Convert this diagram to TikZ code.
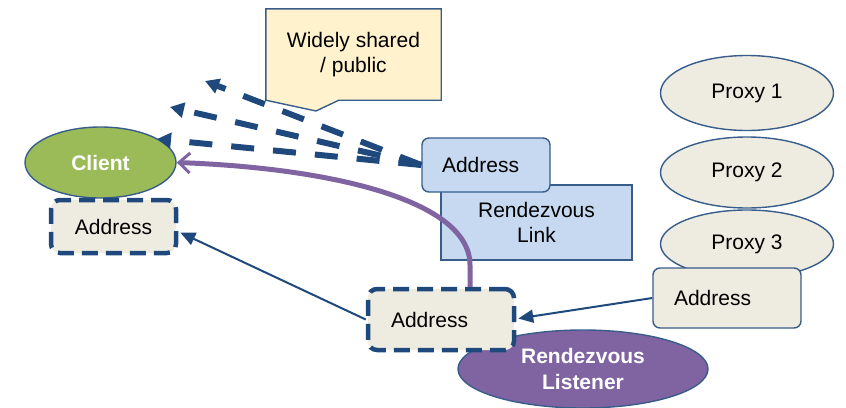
\documentclass[tikz,border=0pt]{standalone}
\usepackage{fontspec}
\setmainfont{Liberation Sans}
\usetikzlibrary{arrows.meta,calc,shapes.geometric,backgrounds}

\definecolor{navy}{HTML}{1F497D}
\definecolor{edgeblue}{HTML}{385D8A}
\definecolor{paper}{HTML}{EEECE1}
\definecolor{notefill}{HTML}{FFF2CC}
\definecolor{linkfill}{HTML}{C6D9F1}
\definecolor{clientgreen}{HTML}{9BBB59}
\definecolor{listenerpurple}{HTML}{8064A2}

\tikzset{
  base/.style={font=\fontsize{21}{25}\selectfont, inner sep=0pt, align=center},
  oval/.style={base, ellipse, draw=edgeblue, line width=1.4pt},
  solidbox/.style={base, rectangle, draw=edgeblue, line width=1.4pt, rounded corners=7pt},
  dashbox/.style={base, rectangle, draw=navy, fill=paper, line width=4.5pt,
    dash pattern=on 16pt off 8pt, rounded corners=9pt},
  thinarrow/.style={draw=navy, line width=2pt, -{Triangle[length=15pt,width=13pt]}},
  sharearrow/.style={draw=navy, line width=6pt, dash pattern=on 23pt off 19pt,
    -{Triangle[length=14pt,width=15pt]}},
}

\begin{document}
\begin{tikzpicture}[x=1pt,y=-1pt]
\useasboundingbox (0,0) rectangle (846,407);

% callout note
\node[base, minimum width=175pt, minimum height=91pt] (note) at (353.5,54.5)
  {Widely shared\\ / public};
\begin{scope}[on background layer]
\draw[edgeblue, line width=1.4pt, fill=notefill]
  (note.north west) -- (note.north east) -- (note.south east)
  -- ($(note.south west)+(73,0)$) -- (316,111) -- (note.south west) -- cycle;
\end{scope}

% rendezvous listener and its address
\node[oval, fill=listenerpurple, minimum width=250pt, minimum height=78pt,
  text=white, font=\fontsize{21}{26}\selectfont\bfseries] (listener) at (583,369)
  {Rendezvous\\ Listener};
\node[dashbox, minimum width=146pt, minimum height=61pt, text width=100pt,
  align=left, inner xsep=23pt] (laddr) at (441,319.5) {Address};

% rendezvous link with its published address
\node[solidbox, rounded corners=0pt, fill=linkfill, minimum width=191pt,
  minimum height=75pt] (link) at (536.5,222.5) {Rendezvous\\ Link};
\node[solidbox, fill=linkfill, minimum width=128pt, minimum height=54pt,
  text width=88pt, align=left, inner xsep=20pt] (paddr) at (486,165) {Address};

% proxies
\node[oval, fill=paper, minimum width=173pt, minimum height=75pt] (p1) at (747,93) {Proxy 1};
\node[oval, fill=paper, minimum width=173pt, minimum height=71pt] (p2) at (747,172.5) {Proxy 2};
\node[oval, fill=paper, minimum width=173pt, minimum height=68pt] (p3) at (747,244) {Proxy 3};
\node[solidbox, fill=paper, minimum width=148pt, minimum height=60pt,
  text width=106pt, align=left, inner xsep=21pt] (xaddr) at (727,298) {Address};

% client and its address
\node[oval, fill=clientgreen, minimum width=151pt, minimum height=71pt,
  text=white, font=\fontsize{21}{25}\selectfont\bfseries] (client) at (100.5,162.5) {Client};
\node[dashbox, minimum width=125pt, minimum height=53pt] (caddr) at (113.5,226.5) {Address};

% connectors
\coordinate (t1) at (157,139);
\coordinate (t2) at (170,107);
\coordinate (t3) at (205,81);
\draw[sharearrow] (paddr.west) -- (t1);
\draw[sharearrow] (paddr.west) -- (t2);
\draw[sharearrow] (paddr.west) -- (t3);

\draw[thinarrow] (laddr.west) -- ($(caddr.east)+(2,6)$);
\draw[thinarrow] (xaddr.west) -- ($(laddr.east)+(2,-1)$);

\draw[listenerpurple, line width=5pt, -{Straight Barb[length=11pt,width=20pt,line width=3pt]}]
  (laddr.north -| 470,0) -- (470,265) .. controls (470,200) and (330,168) .. (client.east);
\end{tikzpicture}
\end{document}
